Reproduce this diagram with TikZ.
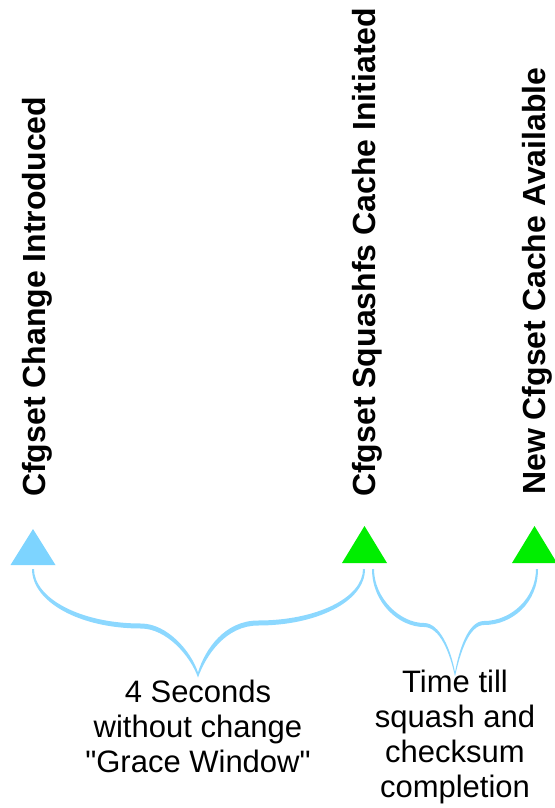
\documentclass[tikz,border=0pt]{standalone}
\usepackage{fontspec}
\setmainfont{Liberation Sans}[Ligatures=TeXOff]
\definecolor{skyblue}{RGB}{125,212,255}
\definecolor{bracecol}{RGB}{140,216,255}
\definecolor{markgreen}{RGB}{0,238,0}
\begin{document}
\begin{tikzpicture}[x=1pt,y=-1pt,
  event/.style={rotate=90, anchor=base west, inner sep=0pt,
    font=\fontsize{32}{36}\selectfont\bfseries},
  note/.style={anchor=base, align=center, inner sep=0pt,
    font=\fontsize{31}{35}\selectfont},
  brace/.style={fill=bracecol, draw=none}]
\useasboundingbox (0,0) rectangle (554,808);

% event labels, read from bottom to top
\node[event] (changed)   at (45,497)  {Cfgset Change Introduced};
\node[event] (initiated) at (375,497) {Cfgset Squashfs Cache Initiated};
\node[event] (available) at (545,495) {New Cfgset Cache Available};

% event markers
\fill[skyblue]    (10.5,565) -- (33,529)    -- (55.5,565) -- cycle;
\fill[markgreen]  (342,563)  -- (364.5,526) -- (387,563)  -- cycle;
\fill[markgreen]  (512,563)  -- (534.5,526) -- (557,563)  -- cycle;

% grace window brace
\fill[brace] (34,569) .. controls (34,598) and (80,623.5) .. (141,623.5)
  .. controls (167,623.5) and (191,651) .. (198,672.5)
  .. controls (205,649) and (225,620.5) .. (258,620.5)
  .. controls (316,620.5) and (363,598) .. (363,569)
  -- (365,569)
  .. controls (365,602) and (316,625.5) .. (258,625.5)
  .. controls (226,625.5) and (206,655) .. (198,677.5)
  .. controls (190,655) and (166,628.5) .. (141,628.5)
  .. controls (80,628.5) and (32,602) .. (32,569) -- cycle;

% squash and checksum brace
\fill[brace] (374,569) .. controls (374,598) and (400,623) .. (424,623)
  .. controls (440,623) and (451,650) .. (455,672.5)
  .. controls (459,650) and (468,621) .. (484,621)
  .. controls (511,621) and (536,598) .. (536,569)
  -- (538,569)
  .. controls (538,603) and (512,625) .. (484,625)
  .. controls (469,625) and (460,653) .. (455,676.5)
  .. controls (450,653) and (440,627) .. (424,627)
  .. controls (399,627) and (372,603) .. (372,569) -- cycle;

% interval descriptions (anchored on the baseline of the last line)
\node[note] (grace)  at (198,772) {4 Seconds\\without change\\"Grace Window"};
\node[note] (squash) at (455,797) {Time till\\squash and\\checksum\\completion};
\end{tikzpicture}
\end{document}
